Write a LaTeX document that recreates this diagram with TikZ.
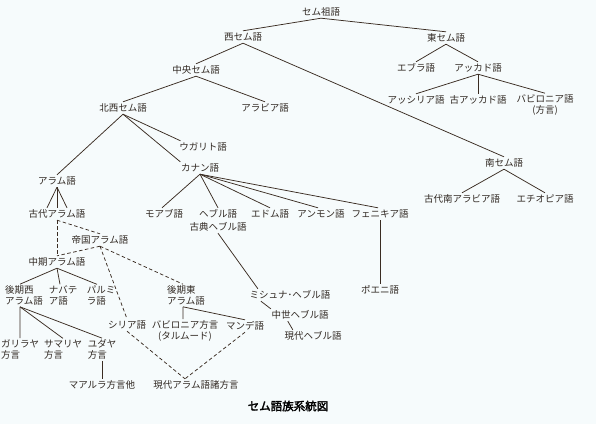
\documentclass[tikz,border=0pt]{standalone}
\usepackage{fontspec}
\setmainfont{Noto Sans CJK JP}
\newfontfamily\titlefont[FakeBold=2.5]{Noto Sans CJK JP}
\definecolor{bg}{RGB}{246,251,252}
\definecolor{ink}{RGB}{58,44,34}
\definecolor{txt}{RGB}{48,40,34}
\tikzset{
  lab/.style={font=\fontsize{9.5bp}{10.5bp}\selectfont, text=txt, inner sep=1.5bp, text height=7.5bp, text depth=1.5bp},
  labl/.style={font=\fontsize{9.5bp}{10.5bp}\selectfont, text=txt, inner sep=1.5bp, align=left},
  labc/.style={font=\fontsize{9.5bp}{10.5bp}\selectfont, text=txt, inner sep=1.5bp, align=center},
  ln/.style={draw=ink, line width=0.75bp},
  dln/.style={ln, dash pattern=on 3.5bp off 2.5bp},
}
\begin{document}
\begin{tikzpicture}[x=1bp,y=-1bp]
\fill[bg] (0,0) rectangle (596,424);
\useasboundingbox (0,0) rectangle (596,424);
% nodes
\node[lab] (root) at (321,12) {セム祖語};
\node[lab] (w) at (243,37) {西セム語};
\node[lab] (e) at (446,38) {東セム語};
\node[lab] (ebla) at (416,68) {エブラ語};
\node[lab] (akk) at (478,68) {アッカド語};
\node[lab] (assy) at (416,100) {アッシリア語};
\node[lab] (oakk) at (478,100) {古アッカド語};
\node[labc] (bab) at (545,105) {バビロニア語\\(方言)};
\node[lab] (c) at (196,70) {中央セム語};
\node[lab] (s) at (504,163) {南セム語};
\node[lab] (osa) at (462,199) {古代南アラビア語};
\node[lab] (eth) at (545,199) {エチオピア語};
\node[lab] (nw) at (123,108) {北西セム語};
\node[lab] (arab) at (265,108) {アラビア語};
\node[lab] (ug) at (203,147) {ウガリト語};
\node[lab] (can) at (200,168) {カナン語};
\node[lab] (aram) at (57,181) {アラム語};
\node[lab] (oaram) at (57,214) {古代アラム語};
\node[lab] (moab) at (164,214) {モアブ語};
\node[lab] (heb) at (218,214) {ヘブル語};
\node[lab] (cheb) at (218,227) {古典ヘブル語};
\node[lab] (edom) at (270,214) {エドム語};
\node[lab] (ammon) at (321,214) {アンモン語};
\node[lab] (phoen) at (380,214) {フェニキア語};
\node[lab] (punic) at (380,290) {ポエニ語};
\node[lab] (imp) at (100,240) {帝国アラム語};
\node[lab] (mid) at (57,262) {中期アラム語};
\node[labl] (lwa) at (24,295.5) {後期西\\アラム語};
\node[labl] (nab) at (63,295.5) {ナバテ\\ア語};
\node[labl] (palm) at (101,295.5) {パルミ\\ラ語};
\node[lab] (syr) at (127,325) {シリア語};
\node[labl] (lea) at (186,295.5) {後期東\\アラム語};
\node[labc] (babt) at (185,331) {バビロニア方言\\(タルムード)};
\node[lab] (mand) at (245,326) {マンデ語};
\node[labl] (gal) at (20,349.5) {ガリラヤ\\方言};
\node[labl] (sam) at (63,349.5) {サマリヤ\\方言};
\node[labl] (jud) at (102,349.5) {ユダヤ\\方言};
\node[lab] (maal) at (102,385) {マアルラ方言他};
\node[lab] (mod) at (196,385) {現代アラム語諸方言};
\node[lab] (mish) at (290,295) {ミシュナ･ヘブル語};
\node[lab] (medh) at (300,315) {中世ヘブル語};
\node[lab] (modh) at (313,336) {現代ヘブル語};
\node[font=\titlefont\fontsize{11.5bp}{13bp}\selectfont, text=black, inner sep=1bp] (title) at (288,406) {セム語族系統図};
% solid connectors
\draw[ln] (root.south) -- (w.north);
\draw[ln] (root.south) -- (e.north);
\draw[ln] (e.south) -- (ebla.north);
\draw[ln] (e.south) -- (akk.north);
\draw[ln] (akk.south) -- (assy.north);
\draw[ln] (akk.south) -- (oakk.north);
\draw[ln] (akk.south) -- (bab.north);
\draw[ln] (w.south) -- (c.north);
\draw[ln] (w.south) -- (s.north);
\draw[ln] (s.south) -- (osa.north);
\draw[ln] (s.south) -- (eth.north);
\draw[ln] (c.south) -- (nw.north);
\draw[ln] (c.south) -- (arab.north);
\draw[ln] (nw.south) -- ([xshift=3bp]ug.north west);
\draw[ln] (nw.south) -- ([xshift=1bp]can.north west);
\draw[ln] (nw.south) -- (aram.north);
\draw[ln] (aram.south) -- ([xshift=-10bp]oaram.north);
\draw[ln] (aram.south) -- (oaram.north);
\draw[ln] (aram.south) -- ([xshift=10bp]oaram.north);
\draw[ln] (can.south) -- ([xshift=-2bp]moab.north);
\draw[ln] (can.south) -- (heb.north);
\draw[ln] (can.south) -- (edom.north);
\draw[ln] (can.south) -- ([xshift=-3bp]ammon.north);
\draw[ln] (can.south) -- ([xshift=-2bp]phoen.north);
\draw[ln] (phoen.south) -- (punic.north);
\draw[ln] (cheb.south) -- ([xshift=10bp]mish.north west);
\draw[ln] ([xshift=13bp]mish.south west) -- ([xshift=1bp]medh.north west);
\draw[ln] ([xshift=18bp]medh.south west) -- ([xshift=10bp]modh.north west);
\draw[ln] (mid.south) -- ([xshift=-4bp]lwa.north);
\draw[ln] (mid.south) -- ([xshift=-3bp]nab.north);
\draw[ln] (mid.south) -- ([xshift=-4bp]palm.north);
\draw[ln] ([xshift=-4bp]lwa.south) -- (gal.north);
\draw[ln] ([xshift=-4bp]lwa.south) -- (sam.north);
\draw[ln] ([xshift=-4bp]lwa.south) -- (jud.north);
\draw[ln] (jud.south) -- (maal.north);
\draw[ln] ([xshift=-3bp]lea.south) -- ([xshift=-2bp]babt.north);
\draw[ln] ([xshift=-3bp]lea.south) -- (mand.north);
% dashed connectors
\coordinate (conv) at ([xshift=-11bp]mod.north);
\draw[dln] (oaram.south) -- (mid.north);
\draw[dln] (oaram.south) -- (imp.north);
\draw[dln] (imp.south) -- (mid.north);
\draw[dln] (imp.south) -- (syr.north);
\draw[dln] (imp.south) -- ([xshift=-3bp]lea.north);
\draw[dln] (syr.south) -- (conv);
\draw[dln] (mand.south) -- (conv);
\end{tikzpicture}
\end{document}
